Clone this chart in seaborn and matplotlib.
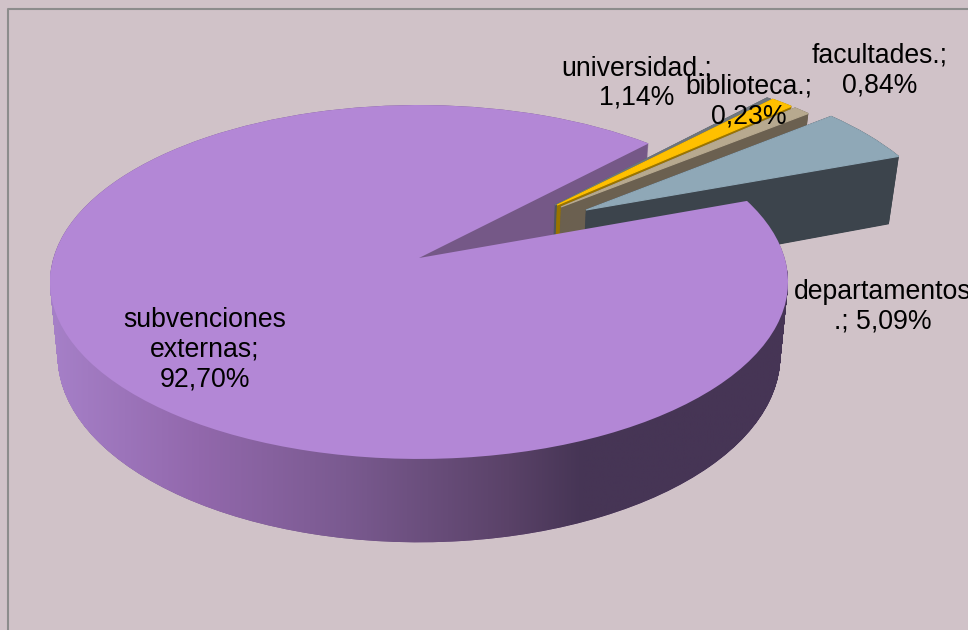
import numpy as np
import seaborn as sns
import matplotlib
matplotlib.use("Agg")
import matplotlib.pyplot as plt
from matplotlib.colors import LinearSegmentedColormap
from matplotlib.path import Path
from matplotlib.transforms import Transform

# Data
categories = ['subvenciones externas', 'departamentos', 'facultades', 'universidad', 'biblioteca']
values = [92.70, 5.09, 0.84, 1.14, 0.23]
label_texts = ['subvenciones\nexternas;\n92,70%', 'departamentos\n.; 5,09%', 'facultades.;\n0,84%',
               'universidad.;\n1,14%', 'biblioteca.;\n0,23%']

# Style
pull_out = [(0, 0), (0.4745, 0.287), (0.4045, 0.306), (0.394, 0.318), (0.388, 0.318)]
radii = [1, 1.012, 1.015, 1.015, 1.015]
top_colors = sns.color_palette(['#B387D6', '#8FA8B7', '#B7A98F', '#FFC000', '#6E767E'])
wall_colors = sns.color_palette(['#755887', '#3C444C', '#6B6050', '#9A7400', '#50565C'])
label_xy = [(205, 350), (883, 307), (880, 70.5), (637, 83), (749, 101.5)]
bg = '#D0C2C8'
start = 46.4


class Persp(Transform):
    # tilted view of the unit pie, in pixels of the picture
    input_dims = output_dims = 2

    def __init__(self, cx, cy, a, b, k):
        super().__init__()
        self.p = (cx, cy, a, b, k)

    def transform_non_affine(self, xy):
        cx, cy, a, b, k = self.p
        xy = np.asarray(xy)
        w = 1 + k * xy[:, 1]
        return np.column_stack([cx + a * xy[:, 0] / w, cy - b * xy[:, 1] / w])


top = np.array([419, 258, 365.6, 173.7, 0.1356])
bottom = np.array([419, 330.7, 358, 182.9, 0.1356])

sns.set_theme(style='white')
plt.rcParams['font.family'] = ['Liberation Sans', 'DejaVu Sans']
fig = plt.figure(figsize=(9.68, 6.3), dpi=100, facecolor=bg)
ax = fig.add_axes([0, 0, 1, 1])


def layer(t):
    tr = Persp(*(bottom + (top - bottom) * t))
    wedges, _ = ax.pie(values, startangle=start, counterclock=True, radius=1, normalize=True)
    for w, c, r in zip(wedges, pull_out, radii):
        w.set_center(c)
        w.set_radius(r)
        w.set_transform(tr + ax.transData)
        w.set_linewidth(0)
    return wedges, tr


# walls, bottom to top; back slices first
clip_parts = []
for t in np.linspace(0, 1, 120):
    wedges, tr = layer(t)
    clip_parts.append(tr.transform_path(wedges[0].get_path()))
    for i, w in enumerate(wedges):
        w.set_facecolor(wall_colors[i])
        w.set_zorder({0: 1, 4: 2, 3: 3, 2: 4, 1: 5}[i])
        if i > 0:
            # thin slices would leave gaps between layers otherwise
            w.set_edgecolor(wall_colors[i])
            w.set_linewidth(0.8)

# shaded front of the big slice
shade = LinearSegmentedColormap.from_list('shade', [(0, '#A680C8'), (0.2, '#9268AC'), (0.4, '#7A5A90'),
                                                    (0.62, '#5A4268'), (0.72, '#463555'), (1, '#463555')])
im = ax.imshow(np.linspace(0, 1, 256)[None, :], cmap=shade, extent=(50, 790, 560, 270), aspect='auto', zorder=1.5)
im.set_clip_path(Path.make_compound_path(*clip_parts), transform=ax.transData)

# top faces
wedges, tr = layer(1)
for i, w in enumerate(wedges):
    w.set_facecolor(top_colors[i])
    w.set_zorder({0: 10, 4: 2.5, 3: 3.5, 2: 4.5, 1: 5.5}[i])
    if i > 0:
        w.set_edgecolor(top_colors[i])
        w.set_linewidth(0.8)

ax.set_aspect('auto')
ax.set_xlim(0, 968)
ax.set_ylim(630, 0)
ax.set_frame_on(False)
ax.plot([8, 8, 968], [630, 9, 9], color='#8C8C8C', lw=1.5, zorder=0.5, clip_on=False)

for txt, (x, y) in zip(label_texts, label_xy):
    ax.text(x, y, txt, ha='center', va='center', fontsize=19.2, color='black', zorder=20, linespacing=1.19)

fig.savefig('out.png', dpi=100, facecolor=bg)
